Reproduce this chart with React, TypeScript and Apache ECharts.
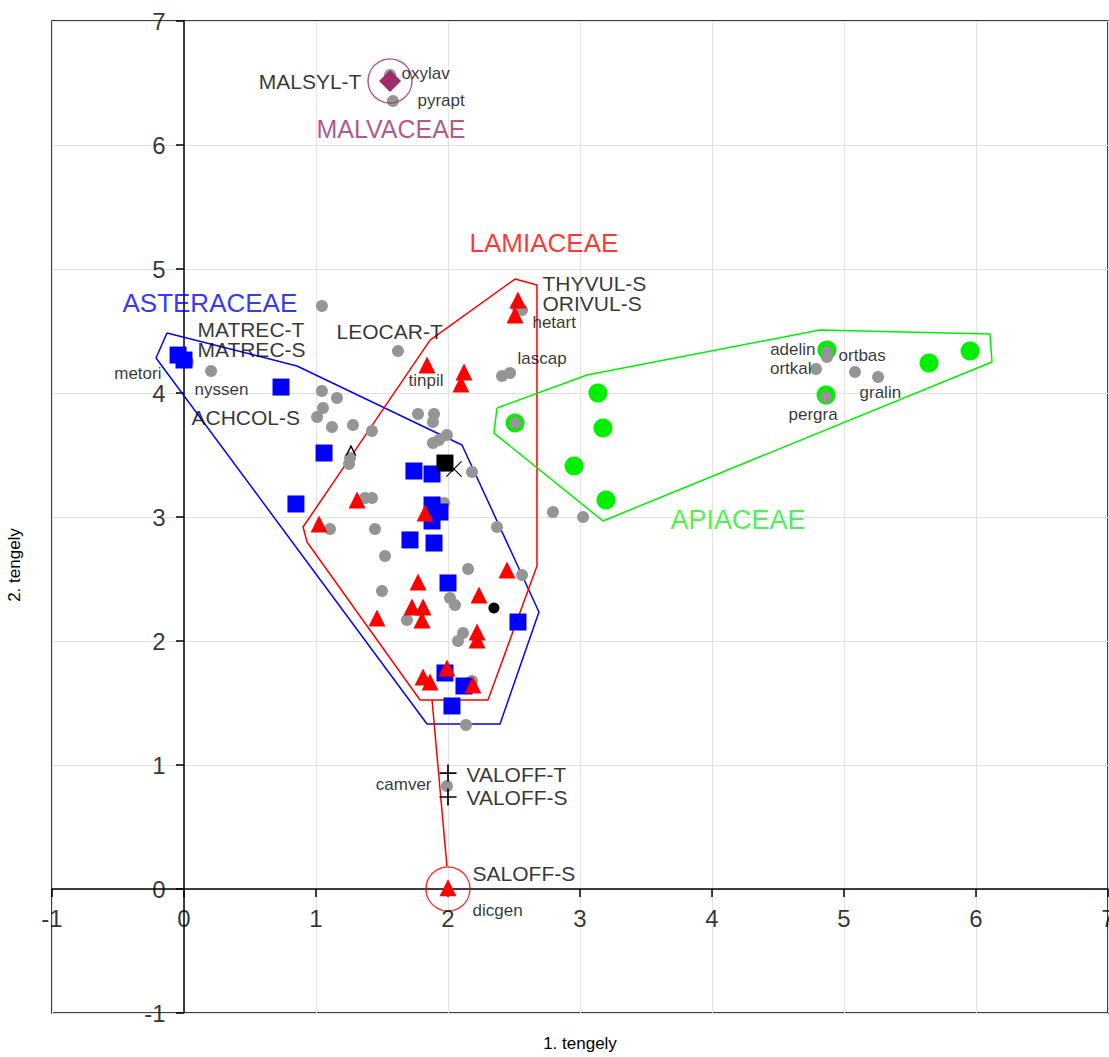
import React, { useEffect, useRef } from "react";
import * as echarts from "echarts";

const xTicks = [-1, 0, 1, 2, 3, 4, 5, 6, 7];
const yTicks = [-1, 0, 1, 2, 3, 4, 5, 6, 7];

const asteraceae = [
  [-0.045, 4.306], [0.0, 4.266], [0.735, 4.048], [1.061, 3.516], [0.848, 3.105],
  [1.742, 3.371], [1.879, 3.347], [1.879, 3.097], [1.939, 3.04], [1.879, 2.968],
  [1.712, 2.815], [1.894, 2.79], [2.0, 2.468], [2.53, 2.153], [1.977, 1.742],
  [2.121, 1.637], [2.03, 1.476],
];
const blackSquare = [[1.977, 3.435]];

const lamiaceae = [
  [2.53, 4.75], [2.508, 4.629], [1.841, 4.226], [2.121, 4.169], [2.098, 4.073],
  [1.311, 3.137], [1.023, 2.944], [1.826, 3.032], [1.773, 2.476], [2.447, 2.573],
  [2.235, 2.371], [1.462, 2.185], [1.727, 2.274], [1.811, 2.274], [1.803, 2.169],
  [2.22, 2.073], [2.22, 2.008], [1.992, 1.782], [1.811, 1.71], [1.864, 1.669],
  [2.189, 1.645], [2.0, 0.01],
];

const apiaceae = [
  [4.871, 4.347], [4.864, 3.984], [5.644, 4.242], [5.955, 4.339], [3.136, 4.0],
  [3.174, 3.718], [2.955, 3.411], [3.197, 3.137], [2.508, 3.758],
];

const malvaceae = [[1.561, 6.516]];

const species = [
  [1.561, 6.565], [1.583, 6.355], [1.045, 4.702], [1.621, 4.339], [0.205, 4.177],
  [0.03, 4.25], [1.045, 4.016], [1.159, 3.96], [1.053, 3.879], [1.008, 3.806],
  [1.121, 3.726], [1.28, 3.742], [1.424, 3.694], [1.773, 3.831], [1.894, 3.831],
  [1.886, 3.766], [1.992, 3.661], [1.886, 3.597], [1.932, 3.621], [1.258, 3.476],
  [1.25, 3.427], [2.182, 3.363], [1.371, 3.153], [1.424, 3.153], [1.902, 3.097],
  [1.97, 3.113], [1.106, 2.903], [1.447, 2.903], [2.795, 3.04], [3.023, 3.0],
  [1.523, 2.685], [2.371, 2.919], [2.152, 2.581], [2.561, 2.532], [1.5, 2.403],
  [2.015, 2.347], [2.053, 2.29], [1.689, 2.169], [2.114, 2.065], [2.076, 2.0],
  [2.182, 1.677], [2.136, 1.323], [2.523, 4.694], [2.561, 4.669], [2.409, 4.137],
  [2.47, 4.161], [2.508, 3.758], [4.871, 4.331], [4.871, 4.29], [4.788, 4.194],
  [5.083, 4.169], [5.258, 4.129], [4.864, 3.968], [1.992, 0.831],
];

const plusPts = [[2.0, 0.935], [2.0, 0.742]];
const crossPts = [[2.045, 3.387]];
const dotPts = [[2.348, 2.266]];
const caretPts = [[1.265, 3.54]];

const hullAsteraceae = [
  [-0.129, 4.484], [0.856, 4.218], [2.106, 3.581], [2.689, 2.234], [2.394, 1.331],
  [1.841, 1.331], [-0.212, 4.282], [-0.129, 4.484],
];
const hullLamiaceae = [
  [1.864, 4.427], [2.508, 4.919], [2.674, 4.871], [2.674, 2.605], [2.303, 1.524],
  [1.788, 1.524], [0.932, 2.798], [0.902, 2.919], [1.864, 4.427],
];
const spurLamiaceae = [[1.879, 1.524], [1.992, 0.185]];
const hullApiaceae = [
  [2.371, 3.879], [3.053, 4.145], [4.818, 4.508], [6.106, 4.476], [6.121, 4.25],
  [3.174, 2.968], [2.348, 3.677], [2.371, 3.879],
];
const malvCircle = [[1.561, 6.516]];
const salCircle = [[2.0, 0.0]];

// [x, y, text, anchor, size, color]
const labels: [number, number, string, string, number, string][] = [
  [1.348, 6.516, "MALSYL-T", "left", 21, "#000"],
  [1.644, 6.573, "oxylav", "right", 17, "#000"],
  [1.765, 6.355, "pyrapt", "right", 17, "#000"],
  [1.568, 6.129, "MALVACEAE", "inside", 25, "#9c2c6c"],
  [2.727, 5.21, "LAMIACEAE", "inside", 26, "#ff0000"],
  [2.712, 4.887, "THYVUL-S", "right", 21, "#000"],
  [2.712, 4.718, "ORIVUL-S", "right", 21, "#000"],
  [2.636, 4.565, "hetart", "right", 17, "#000"],
  [1.152, 4.492, "LEOCAR-T", "right", 21, "#000"],
  [2.523, 4.282, "lascap", "right", 17, "#000"],
  [1.697, 4.097, "tinpil", "right", 17, "#000"],
  [-0.47, 4.725, "ASTERACEAE", "right", 26, "#0000ff"],
  [0.098, 4.516, "MATREC-T", "right", 21, "#000"],
  [0.098, 4.347, "MATREC-S", "right", 21, "#000"],
  [-0.167, 4.161, "metori", "left", 17, "#000"],
  [0.076, 4.032, "nyssen", "right", 17, "#000"],
  [0.053, 3.806, "ACHCOL-S", "right", 21, "#000"],
  [3.682, 2.976, "APIACEAE", "right", 27, "#22ee22"],
  [4.788, 4.347, "adelin", "left", 17, "#000"],
  [4.758, 4.194, "ortkal", "left", 17, "#000"],
  [4.955, 4.306, "ortbas", "right", 17, "#000"],
  [5.114, 4.008, "gralin", "right", 17, "#000"],
  [4.576, 3.823, "pergra", "right", 17, "#000"],
  [1.879, 0.839, "camver", "left", 17, "#000"],
  [2.136, 0.927, "VALOFF-T", "right", 21, "#000"],
  [2.136, 0.734, "VALOFF-S", "right", 21, "#000"],
  [2.182, 0.121, "SALOFF-S", "right", 21, "#000"],
  [2.182, -0.177, "dicgen", "right", 17, "#000"],
];

const FONT = 'Arial, "Liberation Sans", Helvetica, sans-serif';

export default function App() {
  const ref = useRef<HTMLDivElement>(null);
  useEffect(() => {
    document.body.style.margin = "0";
    const chart = echarts.init(ref.current!, null, { renderer: "svg" });
    const hull = (data: number[][], color: string) => ({
      type: "line",
      data,
      symbol: "none",
      silent: true,
      lineStyle: { color, width: 1.5 },
      z: 2,
    });
    const pts = (data: number[][], symbol: string, size: any, color: string, z: number) => ({
      type: "scatter",
      data,
      symbol,
      symbolSize: size,
      itemStyle: { color, opacity: 1 },
      z,
    });
    const tickLabelSeries = (data: number[][], pos: string, dist: number) => ({
      type: "scatter",
      data: data.map((v) => ({
        value: v,
        label: {
          show: true,
          formatter: String(pos === "bottom" ? v[0] : v[1]),
          position: pos,
          distance: dist,
          fontSize: 24,
          color: "#000",
          fontFamily: FONT,
        },
      })),
      symbol: "circle",
      symbolSize: 1,
      itemStyle: { color: "rgba(0,0,0,0)" },
      clip: false,
      silent: true,
      z: 10,
    });
    const option: any = {
      animation: false,
      backgroundColor: "#fff",
      textStyle: { fontFamily: FONT },
      grid: {
        left: 52,
        top: 21,
        width: 1056,
        height: 992,
        show: true,
        borderColor: "#000",
        borderWidth: 1.5,
        backgroundColor: "#fff",
      },
      xAxis: {
        type: "value",
        min: xTicks[0],
        max: xTicks[xTicks.length - 1],
        interval: 1,
        axisLine: { onZero: true, lineStyle: { color: "#000", width: 1.5 } },
        axisTick: { show: true, length: 8, lineStyle: { color: "#000", width: 1.5 } },
        axisLabel: { show: false },
        splitLine: { show: true, lineStyle: { color: "#e2e2e2", width: 1 } },
      },
      yAxis: {
        type: "value",
        min: yTicks[0],
        max: yTicks[yTicks.length - 1],
        interval: 1,
        axisLine: { onZero: true, lineStyle: { color: "#000", width: 1.5 } },
        axisTick: { show: true, length: 8, lineStyle: { color: "#000", width: 1.5 } },
        axisLabel: { show: false },
        splitLine: { show: true, lineStyle: { color: "#e2e2e2", width: 1 } },
      },
      graphic: [
        {
          type: "text",
          x: 580,
          y: 1043,
          style: { text: "1. tengely", font: `17px ${FONT}`, fill: "#000", align: "center", verticalAlign: "middle" },
        },
        {
          type: "text",
          x: 14,
          y: 565,
          rotation: Math.PI / 2,
          style: { text: "2. tengely", font: `17px ${FONT}`, fill: "#000", align: "center", verticalAlign: "middle" },
        },
      ],
      series: [
        hull(hullAsteraceae, "#0000ff"),
        hull(hullLamiaceae, "#ff0000"),
        hull(spurLamiaceae, "#ff0000"),
        hull(hullApiaceae, "#00ee00"),
        pts(apiaceae, "circle", 19, "#00ee00", 3),
        pts(species, "circle", 12, "#959595", 4),
        pts(asteraceae, "rect", 17, "#0000ff", 5),
        pts(blackSquare, "rect", 17, "#000", 5),
        pts(lamiaceae, "triangle", 17, "#ff0000", 6),
        pts(malvaceae, "diamond", 22, "#9c2c6c", 6),
        pts(plusPts, "path://M0,9L20,9L20,11L0,11ZM9,0L11,0L11,20L9,20Z", 17, "#000", 7),
        pts(crossPts, "path://M1,0L10,9L19,0L20,1L11,10L20,19L19,20L10,11L1,20L0,19L9,10L0,1Z", 16, "#000", 7),
        pts(dotPts, "circle", 11, "#000", 7),
        pts(caretPts, "path://M0,12L6,0L12,12L10.3,12L6,3.5L1.7,12Z", 11, "#000", 7),
        {
          type: "scatter",
          data: malvCircle,
          symbol: "circle",
          symbolSize: 44,
          itemStyle: { color: "rgba(0,0,0,0)", borderColor: "#a0306e", borderWidth: 1.5 },
          z: 8,
        },
        {
          type: "scatter",
          data: salCircle,
          symbol: "circle",
          symbolSize: 44,
          itemStyle: { color: "rgba(0,0,0,0)", borderColor: "#ff0000", borderWidth: 1.5 },
          z: 8,
        },
        tickLabelSeries(xTicks.map((t) => [t, 0]), "bottom", 17),
        tickLabelSeries(yTicks.map((t) => [0, t]), "left", 18),
        {
          type: "scatter",
          symbol: "circle",
          symbolSize: 1,
          itemStyle: { color: "rgba(0,0,0,0)" },
          z: 9,
          silent: true,
          data: labels.map(([x, y, t, anchor, size, color]) => ({
            value: [x, y],
            label: {
              show: true,
              formatter: t,
              position: anchor,
              distance: 0,
              fontSize: size,
              color,
              fontFamily: FONT,
            },
          })),
        },
      ],
    };
    chart.setOption(option);
    return () => chart.dispose();
  }, []);
  return <div ref={ref} style={{ width: 1109, height: 1057 }} />;
}
